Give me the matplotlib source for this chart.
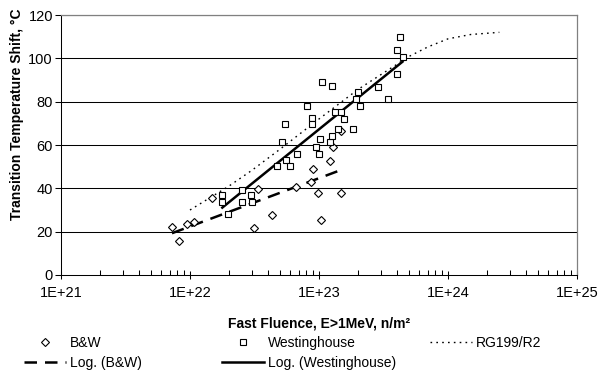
import numpy as np
import matplotlib
matplotlib.use('Agg')
import matplotlib.pyplot as plt
from matplotlib.lines import Line2D
from matplotlib.ticker import FixedLocator, FuncFormatter, LogLocator, NullFormatter

plt.rcParams['font.family'] = ['Liberation Sans', 'DejaVu Sans']

# ---- data ----
bw_fluence = [7.25e21, 8.26e21, 9.42e21, 1.08e22, 1.49e22, 3.11e22, 3.34e22, 4.29e22,
              6.64e22, 8.63e22, 8.95e22, 9.89e22, 1.04e23, 1.21e23, 1.28e23, 1.47e23, 1.47e23]
bw_shift = [22.3, 15.7, 23.5, 24.5, 35.7, 21.5, 39.6, 27.9,
            40.6, 43.1, 48.9, 37.7, 25.4, 52.8, 59.1, 66.5, 37.7]

ws_fluence = [1.78e22, 1.78e22, 1.98e22, 2.52e22, 2.55e22, 2.96e22, 3.01e22, 4.69e22,
              5.13e22, 5.46e22, 5.56e22, 5.95e22, 6.80e22, 8.05e22, 8.89e22, 8.89e22,
              9.45e22, 9.93e22, 1.01e23, 1.05e23, 1.21e23, 1.25e23, 1.25e23, 1.33e23,
              1.40e23, 1.48e23, 1.57e23, 1.85e23, 1.92e23, 2.00e23, 2.07e23, 2.86e23,
              3.45e23, 4.03e23, 4.05e23, 4.21e23, 4.44e23]
ws_shift = [36.9, 33.6, 28.2, 39.2, 33.6, 36.9, 33.6, 50.1,
            61.4, 69.7, 53.1, 50.1, 55.9, 78.0, 72.5, 69.7,
            58.9, 55.8, 62.8, 89.2, 61.4, 87.3, 64.3, 75.4,
            67.4, 75.4, 72.1, 67.4, 81.1, 84.3, 78.0, 86.9,
            81.1, 92.8, 103.8, 109.7, 100.5]

rg_fluence = [1e22, 2e22, 3e22, 5e22, 1e23, 2e23, 5e23, 7e23, 1e24, 1.5e24, 2.5e24]
rg_shift = [30.0, 41.0, 48.2, 58.1, 72.0, 85.6, 100.9, 105.3, 109.0, 111.0, 112.0]

x_ticks = [1e21, 1e22, 1e23, 1e24, 1e25]
y_ticks = [0, 20, 40, 60, 80, 100, 120]

# ---- figure ----
W, H = 599, 378
fig = plt.figure(figsize=(W / 100, H / 100), dpi=100)
L, R, T, B = 61, 577, 15, 275
ax = fig.add_axes([L / W, 1 - B / H, (R - L) / W, (B - T) / H])

ax.set_xscale('log')
ax.set_xlim(1e21, 1e25)
ax.set_ylim(0, 120)

for yv in y_ticks[1:]:
    ax.axhline(yv, color='black', lw=0.75, zorder=1)


def log_trend(x, y):
    lx = np.log10(np.asarray(x))
    c = np.polyfit(lx, np.asarray(y), 1)
    xs = np.array([lx.min(), lx.max()])
    return 10 ** xs, np.polyval(c, xs)


# RG199/R2 curve
ax.plot(rg_fluence, rg_shift, color='black', lw=1.0, dashes=(1.2, 3.0), zorder=2)

# trendlines
tx, ty = log_trend(bw_fluence, bw_shift)
ax.plot(tx, ty, color='black', lw=1.8, dashes=(5, 3.2), zorder=3)
tx, ty = log_trend(ws_fluence, ws_shift)
ax.plot(tx, ty, color='black', lw=1.8, zorder=3)

# points
ax.plot(bw_fluence, bw_shift, ls='none', marker='D', ms=4.4, mfc='white',
        mec='black', mew=0.8, zorder=4)
ax.plot(ws_fluence, ws_shift, ls='none', marker='s', ms=5.0, mfc='white',
        mec='black', mew=0.8, zorder=4)

# ticks
ax.xaxis.set_major_locator(FixedLocator(x_ticks))
ax.xaxis.set_major_formatter(FuncFormatter(lambda v, p: f"1E+{int(round(np.log10(v)))}"))
ax.xaxis.set_minor_locator(LogLocator(base=10, subs=np.arange(2, 10), numticks=20))
ax.xaxis.set_minor_formatter(NullFormatter())
ax.set_yticks(y_ticks)

ax.tick_params(axis='x', which='major', direction='inout', length=6, width=0.75,
               pad=5, labelsize=10.5)
ax.tick_params(axis='x', which='minor', direction='in', length=3.5, width=0.75)
ax.tick_params(axis='y', which='major', direction='out', length=4.3, width=0.75,
               pad=1.5, labelsize=10.5)

for s in ['left', 'bottom']:
    ax.spines[s].set_color('black')
    ax.spines[s].set_linewidth(0.75)
for s in ['top', 'right']:
    ax.spines[s].set_color('#808080')
    ax.spines[s].set_linewidth(0.9)

ax.set_xlabel('Fast Fluence, E>1MeV, n/m²', fontsize=10, fontweight='bold')
ax.xaxis.set_label_coords(0.5, -0.16)
ax.set_ylabel('Transition Temperature Shift, °C', fontsize=10, fontweight='bold')
ax.yaxis.set_label_coords(-0.072, 0.62)

# legend (three equal columns, rows ordered as in the reference)
h_bw = Line2D([], [], ls='none', marker='D', ms=4, mfc='white', mec='black', mew=0.8)
h_ws = Line2D([], [], ls='none', marker='s', ms=4.2, mfc='white', mec='black', mew=0.8)
h_rg = Line2D([], [], color='black', lw=1.0, dashes=(1.2, 3.0))
h_lbw = Line2D([], [], color='black', lw=1.8, dashes=(5, 3.2))
h_lws = Line2D([], [], color='black', lw=1.8)

cols = [([h_bw, h_lbw], ['B&W', 'Log. (B&W)'], 24),
        ([h_ws, h_lws], ['Westinghouse', 'Log. (Westinghouse)'], 222),
        ([h_rg], ['RG199/R2'], 430)]
for hs, ls_, xpx in cols:
    fig.legend(hs, ls_, loc='upper left', bbox_to_anchor=(xpx / W, 1 - 336 / H),
               frameon=False, fontsize=10, handlelength=3.0, handletextpad=0.3,
               labelspacing=0.45, borderaxespad=0, borderpad=0)

fig.savefig('out.png', dpi=100)
